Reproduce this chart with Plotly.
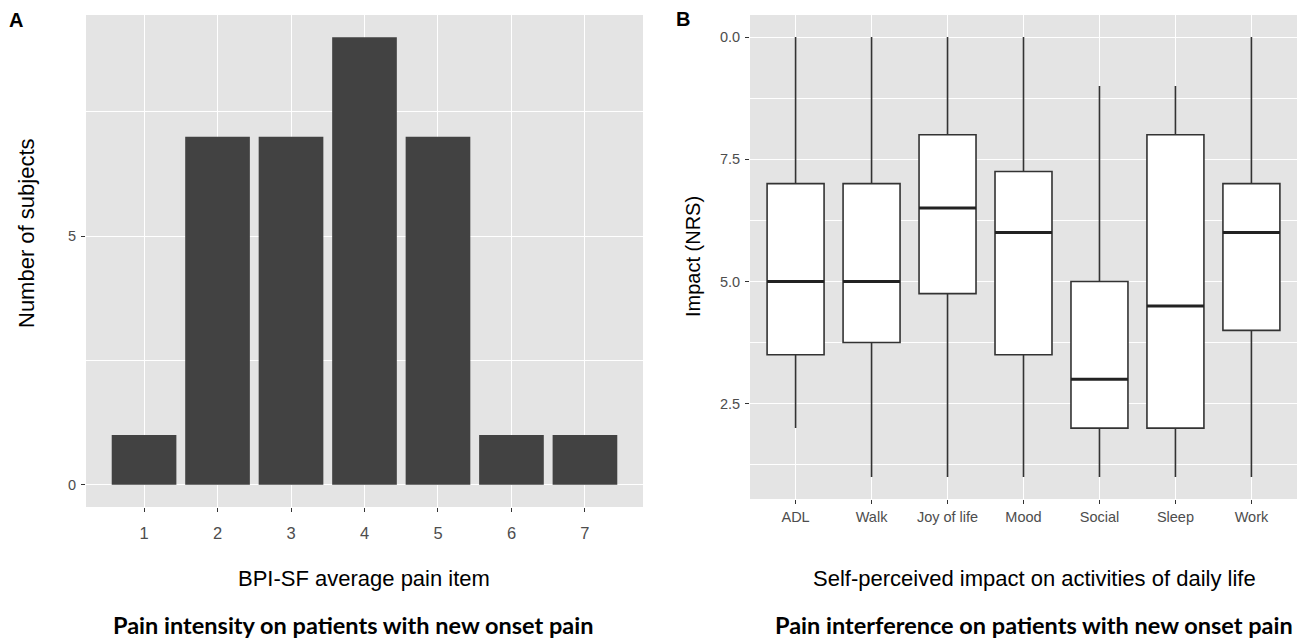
import plotly.graph_objects as go

# ---- Data ----
pain_levels = [1, 2, 3, 4, 5, 6, 7]
subject_counts = [1, 7, 7, 9, 7, 1, 1]

activities = ["ADL", "Walk", "Joy of life", "Mood", "Social", "Sleep", "Work"]
lower_whisker = [2, 1, 1, 1, 1, 1, 1]
q1_vals = [3.5, 3.75, 4.75, 3.5, 2, 2, 4]
median_vals = [5, 5, 6.5, 6, 3, 4.5, 6]
q3_vals = [7, 7, 8, 7.25, 5, 8, 7]
upper_whisker = [10, 10, 10, 10, 9, 9, 10]

right_ytick_vals = [2.5, 5.0, 7.5, 10.0]
right_ytick_text = ["2.5", "5.0", "7.5", "0.0"]

W, H = 1314, 642
PANEL = "#E4E4E4"
BAR = "#424242"
TICKC = "#4D4D4D"
LINEC = "#333333"
FONT = "Liberation Sans, Arial, sans-serif"
BOLDFONT = "Lato, Noto Sans, sans-serif"

def px(x):
    return x / W

def py(y):
    return 1 - y / H

fig = go.Figure()

fig.add_trace(go.Bar(
    x=pain_levels, y=subject_counts, width=0.88,
    marker=dict(color=BAR, line=dict(width=0)),
    xaxis="x", yaxis="y", showlegend=False, hoverinfo="x+y",
))

pos = list(range(len(activities)))
fig.add_trace(go.Box(
    x=pos, q1=q1_vals, median=median_vals, q3=q3_vals,
    lowerfence=lower_whisker, upperfence=upper_whisker,
    width=0.75, whiskerwidth=0,
    fillcolor="white", line=dict(color=LINEC, width=1.6),
    xaxis="x2", yaxis="y2", showlegend=False, boxpoints=False,
))

# thicker median segments (ggplot style)
mx, my = [], []
for i, m in zip(pos, median_vals):
    mx += [i - 0.375, i + 0.375, None]
    my += [m, m, None]
fig.add_trace(go.Scatter(
    x=mx, y=my, mode="lines", line=dict(color="#222222", width=3),
    xaxis="x2", yaxis="y2", showlegend=False, hoverinfo="skip",
))

axis_common = dict(
    showline=False, zeroline=False, ticks="outside", ticklen=4,
    tickcolor=LINEC, tickwidth=1, gridcolor="white", gridwidth=1.2,
)

fig.update_layout(
    width=W, height=H, margin=dict(l=0, r=0, t=0, b=0),
    paper_bgcolor="white", plot_bgcolor=PANEL,
    font=dict(family=FONT, color="black"),
    xaxis=dict(
        domain=[px(86), px(643)], range=[0.21, 7.79],
        tickvals=pain_levels, ticktext=[str(v) for v in pain_levels],
        tickfont=dict(size=16.5, color=TICKC), anchor="y",
        ticklabelstandoff=7, **axis_common,
    ),
    yaxis=dict(
        domain=[py(507), py(15)], range=[-0.45, 9.45],
        tickvals=[0, 5], tickfont=dict(size=14.5, color=TICKC), anchor="x",
        minor=dict(tickvals=[2.5, 7.5], showgrid=True, gridcolor="white", gridwidth=0.6, ticks=""),
        ticklabelstandoff=2, **axis_common,
    ),
    xaxis2=dict(
        domain=[px(750), px(1297)], range=[-0.6, 6.6],
        tickvals=pos, ticktext=activities,
        tickfont=dict(size=14.5, color=TICKC), anchor="y2",
        ticklabelstandoff=1, **axis_common,
    ),
    yaxis2=dict(
        domain=[py(499), py(15)], range=[0.55, 10.45],
        tickvals=right_ytick_vals, ticktext=right_ytick_text,
        tickfont=dict(size=14.5, color=TICKC), anchor="x2",
        minor=dict(tickvals=[1.25, 3.75, 6.25, 8.75], showgrid=True, gridcolor="white", gridwidth=0.6, ticks=""),
        ticklabelstandoff=2, **axis_common,
    ),
)

annotations = [
    dict(text="BPI-SF average pain item", x=px(364), y=py(578), font=dict(size=22)),
    dict(text="Number of subjects", x=px(26), y=py(233), textangle=-90, font=dict(size=22)),
    dict(text="Self-perceived impact on activities of daily life", x=px(1034), y=py(578), font=dict(size=22)),
    dict(text="Impact (NRS)", x=px(693), y=py(257), textangle=-90, font=dict(size=20)),
    dict(text="<b>Pain intensity on patients with new onset pain</b>", x=px(353), y=py(641),
         yanchor="bottom", font=dict(size=23.5, family=BOLDFONT)),
    dict(text="<b>Pain interference on patients with new onset pain</b>", x=px(1034), y=py(641),
         yanchor="bottom", font=dict(size=23.5, family=BOLDFONT)),
    dict(text="<b>A</b>", x=px(16), y=py(20), font=dict(size=20)),
    dict(text="<b>B</b>", x=px(683), y=py(19), font=dict(size=20)),
]
for a in annotations:
    a.setdefault("yanchor", "middle")
    a.update(xref="paper", yref="paper", showarrow=False, xanchor="center")
fig.update_layout(annotations=annotations)

fig.write_html("out.html")
